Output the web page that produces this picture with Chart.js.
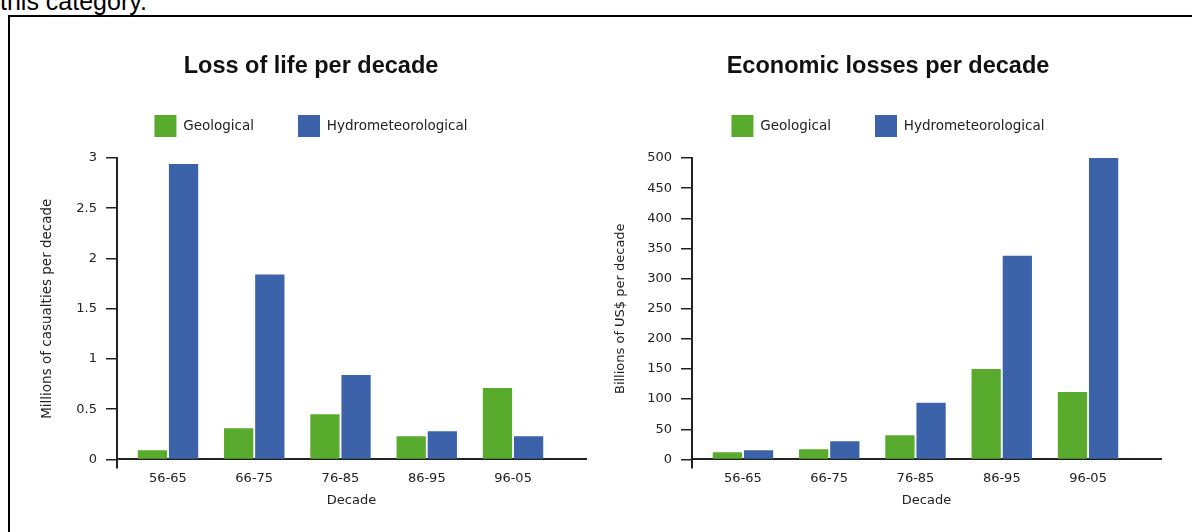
<!DOCTYPE html>
<html>
<head>
<meta charset="utf-8">
<script src="https://cdn.jsdelivr.net/npm/chart.js@4.4.1/dist/chart.umd.min.js"></script>
<style>
  html, body { margin: 0; padding: 0; background: #fff; overflow: hidden; }
  body { width: 1192px; height: 532px; position: relative; }
  .lead { position: absolute; left: 0; top: -11px; font: 25px/24px 'Liberation Sans', Arial, sans-serif; color: #000; white-space: nowrap; }
  .frame { position: absolute; left: 8px; top: 15px; width: 1200px; height: 540px; border: 2px solid #000; box-sizing: border-box; }
  .panel { position: absolute; top: 40px; height: 490px; }
  #left { left: 20px; width: 582px; }
  #right { left: 604px; width: 568px; }
</style>
</head>
<body>
<div class="lead">this category.</div>
<div class="frame"></div>
<div class="panel" id="left"><canvas id="lossOfLife"></canvas></div>
<div class="panel" id="right"><canvas id="economicLosses"></canvas></div>
<script>
// values
const decades = ['56-65', '66-75', '76-85', '86-95', '96-05'];
const seriesNames = ['Geological', 'Hydrometeorological'];
const geoDeaths = [0.09, 0.31, 0.45, 0.23, 0.71];     // millions of casualties
const hydroDeaths = [2.94, 1.84, 0.84, 0.28, 0.23];
const geoLosses = [12, 17, 40, 150, 112];               // billions of US$
const hydroLosses = [15, 30, 94, 338, 500];

const GREEN = '#58ab2c';
const BLUE = '#3c63aa';
const TEXT = '#222';
const AXIS = '#222';
const SANS = 'DejaVu Sans';

// extra room under the legend, plus the little stub of the y axis below zero
const axisExtras = {
  id: 'axisExtras',
  beforeLayout(chart) {
    const legend = chart.legend;
    if (legend && !legend._gapPatched) {
      const fit = legend.fit;
      legend.fit = function () { fit.call(this); this.height += 11; };
      legend._gapPatched = true;
    }
  },
  afterDraw(chart) {
    const { ctx, chartArea } = chart;
    ctx.save();
    ctx.strokeStyle = AXIS;
    ctx.lineWidth = 2;
    ctx.beginPath();
    ctx.moveTo(chartArea.left, chartArea.bottom);
    ctx.lineTo(chartArea.left, chartArea.bottom + 9);
    ctx.stroke();
    ctx.restore();
  }
};

function makeChart(id, cfg) {
  const toPoints = arr => arr.map((v, i) => ({ x: i, y: v }));
  const barStyle = { borderWidth: 0, categoryPercentage: 0.722, barPercentage: 0.94 };
  return new Chart(document.getElementById(id), {
    type: 'bar',
    data: {
      datasets: [
        Object.assign({ label: seriesNames[0], data: toPoints(cfg.geo), backgroundColor: GREEN }, barStyle),
        Object.assign({ label: seriesNames[1], data: toPoints(cfg.hydro), backgroundColor: BLUE }, barStyle)
      ]
    },
    options: {
      responsive: true,
      maintainAspectRatio: false,
      animation: false,
      layout: { padding: { left: cfg.pad, right: cfg.pad, top: 0, bottom: 22 } },
      plugins: {
        title: {
          display: true,
          text: cfg.title,
          color: '#111',
          font: { family: 'Liberation Sans', size: 23.5, weight: 'bold' },
          padding: { top: 12.4, bottom: -9.6 }
        },
        legend: {
          display: true,
          position: 'top',
          labels: {
            boxWidth: 22,
            boxHeight: 22,
            padding: 44,
            color: TEXT,
            font: { family: SANS, size: 13.5 }
          }
        },
        tooltip: { enabled: false }
      },
      scales: {
        x: {
          type: 'linear',
          min: -0.591,
          max: 4.846,
          offset: false,
          grid: { display: false, drawTicks: false, offset: false },
          border: { display: true, color: AXIS, width: 2 },
          afterBuildTicks: scale => { scale.ticks = decades.map((d, i) => ({ value: i })); },
          ticks: {
            color: TEXT,
            padding: 11,
            maxRotation: 0,
            font: { family: SANS, size: 13 },
            callback: value => decades[value]
          },
          title: {
            display: true,
            text: 'Decade',
            color: TEXT,
            font: { family: SANS, size: 13 },
            padding: { top: -4.6, bottom: 0 }
          }
        },
        y: {
          min: 0,
          max: cfg.yMax,
          afterFit: scale => { scale.width = cfg.yWidth; },
          grid: { drawOnChartArea: false, drawTicks: true, tickLength: 11, color: AXIS, lineWidth: 1.5 },
          border: { display: true, color: AXIS, width: 2 },
          ticks: {
            stepSize: cfg.yStep,
            padding: 9,
            color: TEXT,
            font: { family: SANS, size: 13 },
            callback: value => String(Math.round(value * 10) / 10)
          },
          title: {
            display: true,
            text: cfg.yTitle,
            color: TEXT,
            font: { family: SANS, size: cfg.yTitleSize },
            padding: { top: cfg.yTitlePad, bottom: 0 }
          }
        }
      }
    },
    plugins: [axisExtras]
  });
}

makeChart('lossOfLife', {
  title: 'Loss of life per decade',
  yTitle: 'Millions of casualties per decade',
  geo: geoDeaths,
  hydro: hydroDeaths,
  yMax: 3,
  yStep: 0.5,
  pad: 16,
  yWidth: 81,
  yTitleSize: 13.5,
  yTitlePad: 2.9
});

makeChart('economicLosses', {
  title: 'Economic losses per decade',
  yTitle: 'Billions of US$ per decade',
  geo: geoLosses,
  hydro: hydroLosses,
  yMax: 500,
  yStep: 50,
  pad: 11,
  yWidth: 77,
  yTitleSize: 13,
  yTitlePad: -1.8
});
</script>
</body>
</html>
